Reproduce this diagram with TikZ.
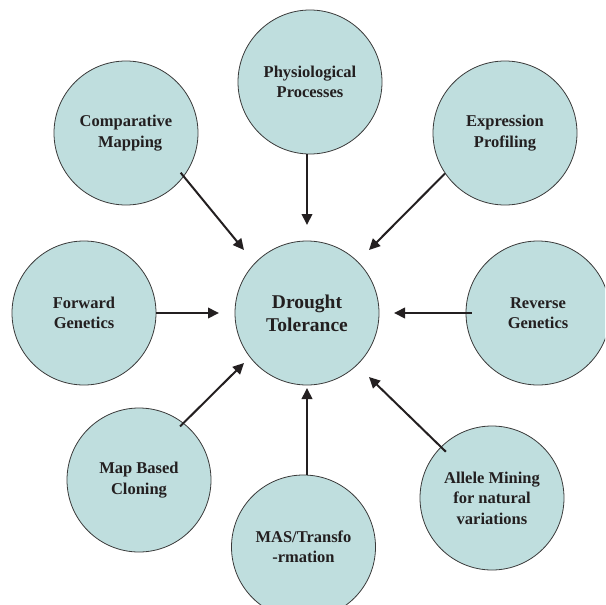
\documentclass[tikz,border=0pt]{standalone}
\usepackage{fontspec}
\setmainfont{Liberation Serif}
\usetikzlibrary{arrows.meta}
\definecolor{bubble}{HTML}{BFDEDE}
\definecolor{ink}{HTML}{231F20}
\definecolor{rim}{HTML}{3A3A3A}
\tikzset{
  bub/.style={circle, draw=rim, line width=0.8pt, fill=bubble, minimum size=144pt, inner sep=0pt,
    align=center, text=ink, font=\fontsize{16.5}{20.5}\selectfont\bfseries},
  bigbub/.style={bub, font=\fontsize{19.5}{23}\selectfont\bfseries},
  link/.style={draw=ink, line width=2pt, -{Triangle[length=11pt,width=10.5pt]}}
}
\begin{document}
\begin{tikzpicture}[x=1pt,y=-1pt]
\useasboundingbox (0,0) rectangle (605,605);
\clip (0,0) rectangle (605,605);
\node[bigbub] (dt)  at (307,313) {Drought\\Tolerance};
\node[bub] (phy) at (310,82)  {Physiological\\Processes};
\node[bub] (cmp) at (126,133) {Comparative\\\ \ Mapping};
\node[bub] (exp) at (505,133) {Expression\\Profiling};
\node[bub] (fwd) at (84,313)  {Forward\\Genetics};
\node[bub] (rev) at (538,313) {Reverse\\Genetics};
\node[bub] (map) at (139,480) {Map Based\\Cloning};
\node[bub] (mas) at (303.5,547) {MAS/Transfo\\-rmation};
\node[bub] (al)  at (492,498) {Allele Mining\\for natural\\variations};
\coordinate (t1) at (244,250);
\coordinate (t2) at (307,225);
\coordinate (t3) at (369,250);
\coordinate (t4) at (219,313);
\coordinate (t5) at (394,313);
\coordinate (t6) at (244,363);
\coordinate (t7) at (307,388);
\coordinate (t8) at (369,377);
\draw[link, shorten <=-5pt] (cmp.-37) -- (t1);
\draw[link] (t2 |- phy.south) -- (t2);
\draw[link] (exp.214) -- (t3);
\draw[link] (fwd.east) -- (t4);
\draw[link, shorten <=-6pt] (rev.west) -- (t5);
\draw[link, shorten <=-5pt] (map.52) -- (t6);
\draw[link] (t7 |- mas.north) -- (t7);
\draw[link, shorten <=-7pt] (al.135) -- (t8);
\end{tikzpicture}
\end{document}
